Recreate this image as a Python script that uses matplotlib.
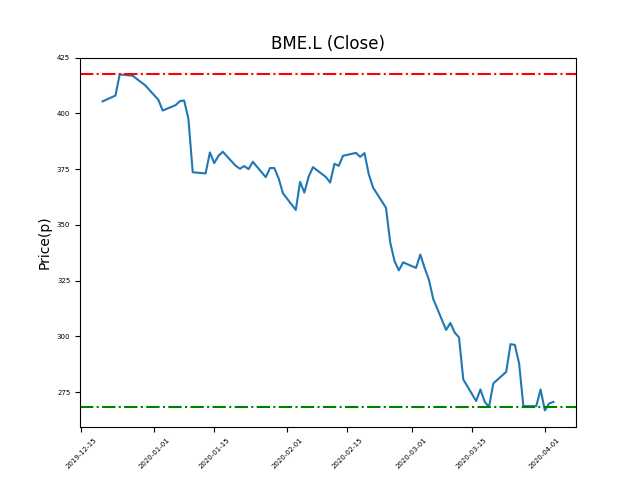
import pandas as pd
import matplotlib
matplotlib.use("Agg")
import matplotlib.pyplot as plt
from matplotlib.ticker import MultipleLocator

# trading days and closing prices (pence)
dates = pd.to_datetime([
    "2019-12-20", "2019-12-23", "2019-12-24", "2019-12-27", "2019-12-30", "2019-12-31",
    "2020-01-02", "2020-01-03", "2020-01-06", "2020-01-07", "2020-01-08", "2020-01-09",
    "2020-01-10", "2020-01-13", "2020-01-14", "2020-01-15", "2020-01-16", "2020-01-17",
    "2020-01-20", "2020-01-21", "2020-01-22", "2020-01-23", "2020-01-24", "2020-01-27",
    "2020-01-28", "2020-01-29", "2020-01-30", "2020-01-31", "2020-02-03", "2020-02-04",
    "2020-02-05", "2020-02-06", "2020-02-07", "2020-02-10", "2020-02-11", "2020-02-12",
    "2020-02-13", "2020-02-14", "2020-02-17", "2020-02-18", "2020-02-19", "2020-02-20",
    "2020-02-21", "2020-02-24", "2020-02-25", "2020-02-26", "2020-02-27", "2020-02-28",
    "2020-03-02", "2020-03-03", "2020-03-04", "2020-03-05", "2020-03-06", "2020-03-09",
    "2020-03-10", "2020-03-11", "2020-03-12", "2020-03-13", "2020-03-16", "2020-03-17",
    "2020-03-18", "2020-03-19", "2020-03-20", "2020-03-23", "2020-03-24", "2020-03-25",
    "2020-03-26", "2020-03-27", "2020-03-30", "2020-03-31", "2020-04-01", "2020-04-02",
    "2020-04-03",
])
close = [
    405.4, 408.0, 417.5, 416.9, 412.5, 410.3,
    406.1, 401.3, 403.7, 405.5, 405.8, 397.5,
    373.6, 373.1, 382.5, 377.7, 381.0, 382.8,
    376.5, 375.2, 376.4, 375.0, 378.3, 371.4,
    375.5, 375.5, 370.9, 364.2, 356.7, 369.3,
    364.5, 371.7, 375.9, 371.5, 369.0, 377.4,
    376.5, 381.0, 382.3, 380.5, 382.2, 372.7,
    366.7, 357.7, 342.0, 333.7, 329.6, 333.2,
    330.7, 336.7, 330.7, 325.4, 316.8, 302.9,
    306.0, 301.7, 299.6, 280.7, 271.0, 276.2,
    270.6, 268.4, 278.9, 284.1, 296.5, 296.2,
    287.9, 268.7, 268.7, 276.2, 266.8, 269.9,
    270.6,
]
resistance = 417.5
support = 268.4

fig, ax = plt.subplots(figsize=(6.4, 4.8), dpi=100)
ax.plot(dates, close)
ax.axhline(resistance, color="r", linestyle="-.")
ax.axhline(support, color="g", linestyle="-.")
ax.set_title("BME.L (Close)")
ax.set_ylabel("Price(p)")
ax.yaxis.set_major_locator(MultipleLocator(25))
ax.tick_params(axis="x", labelsize=5, labelrotation=45)
ax.tick_params(axis="y", labelsize=5)

plt.savefig("out.png")
